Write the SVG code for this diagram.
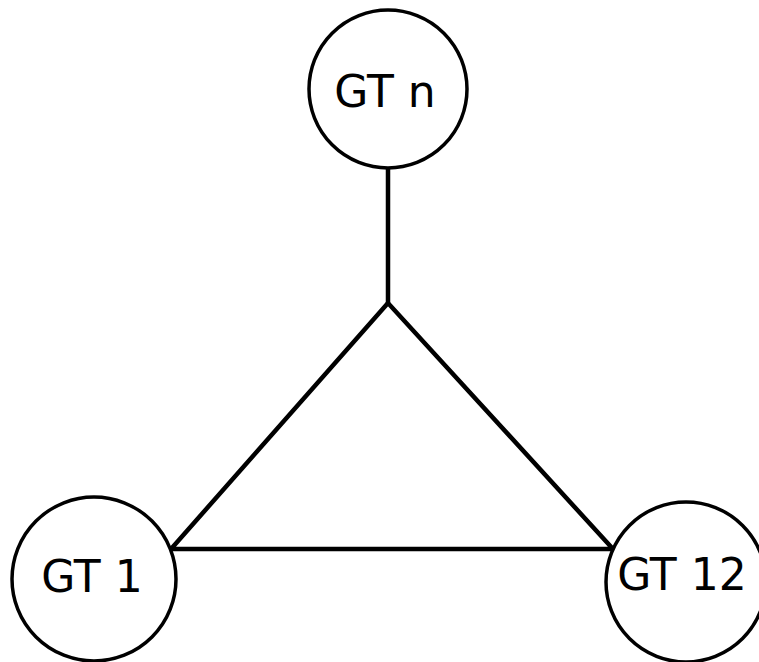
<svg xmlns="http://www.w3.org/2000/svg" width="759" height="662" viewBox="0 0 759 662">
<style>
.node{fill:#fff;stroke:#000;stroke-width:3.5}
.lbl{font-family:"DejaVu Sans",sans-serif;font-size:44px;fill:#000;text-anchor:middle}
.edge{stroke:#000;stroke-width:4.5;fill:none;stroke-linejoin:miter}
</style>
<rect width="759" height="662" fill="#fff"/>
<g id="connectors">
<line class="edge" x1="388" y1="168" x2="388" y2="303"/>
<path class="edge" d="M388 303 L171 549 L613 549 Z"/>
</g>
<g id="gtn">
<circle class="node" cx="388" cy="89" r="79"/>
<text class="lbl" x="385" y="107">GT n</text>
</g>
<g id="gt1">
<circle class="node" cx="94" cy="579" r="82"/>
<text class="lbl" x="92" y="592">GT 1</text>
</g>
<g id="gt12">
<circle class="node" cx="686" cy="582" r="80"/>
<text class="lbl" x="682" y="590">GT 12</text>
</g>
</svg>
